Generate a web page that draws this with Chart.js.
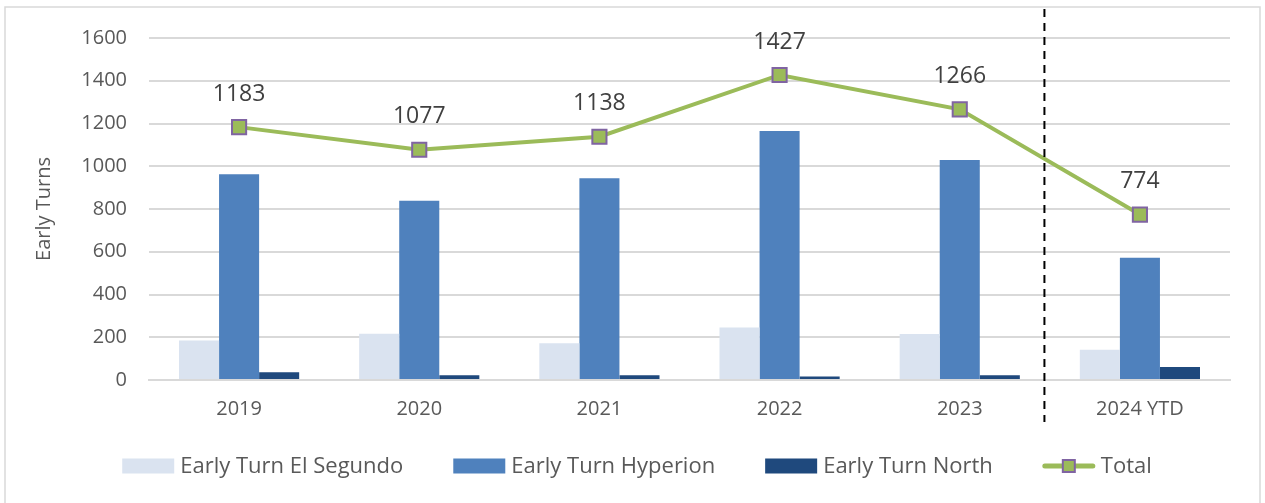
<!DOCTYPE html>
<html>
<head>
<meta charset="utf-8">
<script src="https://cdn.jsdelivr.net/npm/chart.js@4.4.0/dist/chart.umd.min.js"></script>
<style>
  html, body { margin: 0; padding: 0; background: #fff; }
  #wrap { width: 1265px; height: 503px; }
</style>
</head>
<body>
<div id="wrap"><canvas id="chart" width="1265" height="503"></canvas></div>
<script>
const years = ['2019', '2020', '2021', '2022', '2023', '2024 YTD'];
const elSegundo = [185, 216, 172, 246, 215, 141];
const hyperion = [962, 839, 944, 1165, 1029, 572];
const north = [36, 22, 22, 16, 22, 61];
const totals = [1183, 1077, 1138, 1427, 1266, 774];
const yTicks = [0, 200, 400, 600, 800, 1000, 1200, 1400, 1600];
const dividerAt = 4.47; // dashed line between 2023 and 2024 YTD

const FONT = '"Open Sans", Lato, sans-serif';
const TEXT = '#595959';

// borde exterior, línea punteada, etiquetas y leyenda
const extras = {
  id: 'extras',
  afterDraw(chart) {
    const c = chart.ctx;
    const x = chart.scales.x;
    const line = chart.getDatasetMeta(3);

    // borde del gráfico
    c.save();
    c.strokeStyle = '#d9d9d9';
    c.lineWidth = 1.5;
    c.strokeRect(5, 7, 1255, 510);
    c.restore();

    // línea punteada
    const dx = x.getPixelForValue(dividerAt);
    c.save();
    c.strokeStyle = '#000';
    c.lineWidth = 2;
    c.setLineDash([8, 6]);
    c.beginPath();
    c.moveTo(dx, 9);
    c.lineTo(dx, 422);
    c.stroke();
    c.restore();

    // etiquetas de totales
    c.save();
    c.font = '23px ' + FONT;
    c.fillStyle = '#404040';
    c.textAlign = 'center';
    c.textBaseline = 'middle';
    line.data.forEach((pt, i) => {
      c.fillText(String(totals[i]), pt.x, pt.y - 33);
    });
    c.restore();

    // leyenda
    const items = chart.data.datasets.map(ds => ({ label: ds.label, ds }));
    c.save();
    c.font = '22px ' + FONT;
    c.textBaseline = 'middle';
    const symW = 52, symGap = 6, itemGap = 50;
    let total = 0;
    items.forEach(it => { it.w = symW + symGap + c.measureText(it.label).width; total += it.w; });
    total += itemGap * (items.length - 1);
    let lx = 637 - total / 2;
    const ly = 466;
    items.forEach(it => {
      if (it.ds.type === 'line') {
        c.strokeStyle = it.ds.borderColor;
        c.lineWidth = 5;
        c.lineCap = 'round';
        c.beginPath();
        c.moveTo(lx + 2, ly);
        c.lineTo(lx + symW - 2, ly);
        c.stroke();
        c.fillStyle = it.ds.pointBackgroundColor;
        c.strokeStyle = it.ds.pointBorderColor;
        c.lineWidth = 2;
        c.fillRect(lx + symW / 2 - 6, ly - 6, 12, 12);
        c.strokeRect(lx + symW / 2 - 6, ly - 6, 12, 12);
      } else {
        c.fillStyle = it.ds.backgroundColor;
        c.fillRect(lx, ly - 7.5, symW, 15);
      }
      c.fillStyle = TEXT;
      c.fillText(it.label, lx + symW + symGap, ly + 1);
      lx += it.w + itemGap;
    });
    c.restore();
  }
};

new Chart(document.getElementById('chart'), {
  data: {
    labels: years,
    datasets: [
      { type: 'bar', label: 'Early Turn El Segundo', data: elSegundo, backgroundColor: '#dae3f0', order: 1 },
      { type: 'bar', label: 'Early Turn Hyperion', data: hyperion, backgroundColor: '#4f81bd', order: 1 },
      { type: 'bar', label: 'Early Turn North', data: north, backgroundColor: '#1f497d', order: 1 },
      {
        type: 'line', label: 'Total', data: totals,
        borderColor: '#9bbb59', borderWidth: 4,
        pointStyle: 'rect', pointRadius: 10,
        pointBackgroundColor: '#9bbb59', pointBorderColor: '#8064a2', pointBorderWidth: 2,
        tension: 0, order: 0
      }
    ]
  },
  options: {
    responsive: false,
    animation: false,
    datasets: { bar: { barPercentage: 1, categoryPercentage: 0.667 } },
    layout: { padding: { left: 0, right: 35, top: 38, bottom: 0 } },
    plugins: { legend: { display: false }, tooltip: { enabled: false } },
    scales: {
      x: {
        afterFit(s) { s.height = 123; },
        grid: { display: false, drawTicks: false },
        border: { color: '#d9d9d9', width: 2 },
        ticks: { color: TEXT, font: { family: FONT, size: 20 }, padding: 17 }
      },
      y: {
        min: 0, max: 1600,
        afterFit(s) { s.width = 149; },
        afterBuildTicks(s) { s.ticks = yTicks.map(v => ({ value: v })); },
        grid: { color: '#d9d9d9', lineWidth: 2, drawTicks: false },
        border: { display: false },
        ticks: { color: TEXT, font: { family: FONT, size: 20 }, padding: 22, callback: v => String(v) },
        title: { display: true, text: 'Early Turns', color: TEXT, font: { family: FONT, size: 20 }, padding: { top: 32, bottom: 0 } }
      }
    }
  },
  plugins: [extras]
});
</script>
</body>
</html>
